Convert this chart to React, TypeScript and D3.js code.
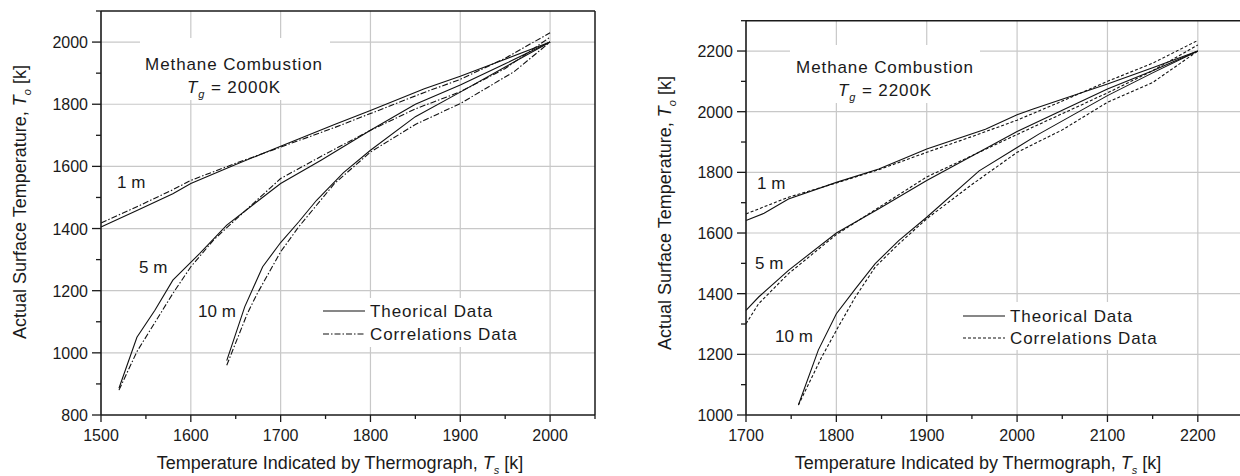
import React from "react";
import * as d3 from "d3";

const FONT = "'Liberation Sans', Arial, Helvetica, sans-serif";
const INK = "#1a1a1a";
const GRID = "#c8c8c8";

// ---------------- Left panel: Tg = 2000 K ----------------
const leftXTicks = [1500, 1600, 1700, 1800, 1900, 2000];
const leftYTicks = [800, 1000, 1200, 1400, 1600, 1800, 2000];

const L1mTheoX = [1500, 1540, 1580, 1600, 1650, 1700, 1760, 1800, 1860, 1900, 1950, 2000];
const L1mTheoY = [1405, 1458, 1512, 1545, 1606, 1665, 1735, 1780, 1850, 1890, 1945, 2000];
const L1mCorrX = [1500, 1540, 1580, 1600, 1650, 1700, 1760, 1800, 1860, 1900, 1950, 2000];
const L1mCorrY = [1418, 1470, 1525, 1555, 1610, 1662, 1725, 1770, 1838, 1880, 1948, 2030];

const L5mTheoX = [1520, 1540, 1560, 1580, 1610, 1640, 1700, 1745, 1800, 1850, 1900, 1950, 2000];
const L5mTheoY = [886, 1050, 1137, 1234, 1320, 1411, 1545, 1620, 1716, 1800, 1862, 1930, 2000];
const L5mCorrX = [1520, 1540, 1580, 1600, 1625, 1645, 1700, 1750, 1800, 1850, 1900, 1950, 2000];
const L5mCorrY = [880, 1004, 1191, 1277, 1362, 1416, 1561, 1640, 1716, 1785, 1840, 1915, 2016];

const L10mTheoX = [1640, 1660, 1680, 1700, 1720, 1740, 1770, 1800, 1850, 1900, 1950, 2000];
const L10mTheoY = [975, 1148, 1277, 1355, 1421, 1491, 1580, 1652, 1760, 1839, 1920, 2000];
const L10mCorrX = [1640, 1663, 1674, 1700, 1720, 1760, 1800, 1850, 1900, 1960, 2000];
const L10mCorrY = [960, 1127, 1191, 1325, 1405, 1545, 1646, 1735, 1802, 1905, 2000];

// ---------------- Right panel: Tg = 2200 K ----------------
const rightXTicks = [1700, 1800, 1900, 2000, 2100, 2200];
const rightYTicks = [1000, 1200, 1400, 1600, 1800, 2000, 2200];

const R1mTheoX = [1700, 1720, 1747, 1800, 1847, 1900, 1965, 2000, 2017, 2100, 2150, 2200];
const R1mTheoY = [1641, 1665, 1712, 1767, 1811, 1877, 1942, 1990, 2008, 2091, 2145, 2200];
const R1mCorrX = [1700, 1747, 1800, 1850, 1900, 1950, 2000, 2050, 2100, 2150, 2200];
const R1mCorrY = [1663, 1718, 1765, 1812, 1866, 1918, 1972, 2035, 2100, 2160, 2235];

const R5mTheoX = [1700, 1714, 1747, 1800, 1847, 1900, 2000, 2100, 2150, 2200];
const R5mTheoY = [1345, 1389, 1477, 1600, 1680, 1773, 1935, 2075, 2135, 2200];
const R5mCorrX = [1700, 1714, 1747, 1800, 1900, 2000, 2100, 2150, 2200];
const R5mCorrY = [1301, 1367, 1466, 1595, 1785, 1925, 2062, 2135, 2220];

const R10mTheoX = [1758, 1780, 1800, 1821, 1843, 1869, 1900, 1958, 2000, 2024, 2100, 2150, 2200];
const R10mTheoY = [1033, 1214, 1334, 1416, 1499, 1575, 1652, 1805, 1882, 1926, 2053, 2128, 2200];
const R10mCorrX = [1758, 1784, 1802, 1821, 1843, 1869, 1900, 1950, 2000, 2050, 2100, 2150, 2200];
const R10mCorrY = [1033, 1192, 1290, 1389, 1488, 1564, 1647, 1760, 1866, 1940, 2031, 2096, 2200];

const curveLabels = ["1 m", "5 m", "10 m"];
const legendLabels = ["Theorical Data", "Correlations Data"];

type Series = { x: number[]; y: number[]; corr: boolean };

const zip = (xs: number[], ys: number[]) => xs.map((v, i) => [v, ys[i]] as [number, number]);

interface PanelProps {
  xDomain: [number, number];
  yDomain: [number, number];
  left: number; right: number; top: number; bottom: number;
  xTicks: number[]; yTicks: number[];
  series: Series[];
  dash: string;
  tg: string;
  annot: { cx: number; y: number; box: [number, number, number, number] };
  labels: { x: number; y: number }[];
  legend: { x: number; y: number; gap: number; box: [number, number, number, number] };
  xTitle: { cx: number; y: number };
  yTitle: { x: number; cy: number };
}

function Panel(p: PanelProps) {
  const x = d3.scaleLinear().domain(p.xDomain).range([p.left, p.right]);
  const y = d3.scaleLinear().domain(p.yDomain).range([p.bottom, p.top]);
  const line = d3.line<[number, number]>().x((d) => x(d[0])).y((d) => y(d[1]));
  const xMinor = d3.range(p.xDomain[0] + 50, p.xDomain[1] + 1, 100);
  const yMinor = d3.range(p.yDomain[0] + 100, p.yDomain[1] + 1, 200);
  const sub = { fontSize: 11, fontStyle: "italic" as const };
  return (
    <g fontFamily={FONT} fill={INK}>
      {/* grid */}
      {p.xTicks.filter((v) => v > p.xDomain[0]).map((v) => (
        <line key={"gx" + v} x1={x(v)} x2={x(v)} y1={p.top} y2={p.bottom} stroke={GRID} strokeWidth={1.2} />
      ))}
      {p.yTicks.filter((v) => v > p.yDomain[0]).map((v) => (
        <line key={"gy" + v} x1={p.left} x2={p.right} y1={y(v)} y2={y(v)} stroke={GRID} strokeWidth={1.2} />
      ))}
      {/* white boxes behind annotation and legend */}
      <rect x={p.annot.box[0]} y={p.annot.box[1]} width={p.annot.box[2] - p.annot.box[0]} height={p.annot.box[3] - p.annot.box[1]} fill="#fff" />
      <rect x={p.legend.box[0]} y={p.legend.box[1]} width={p.legend.box[2] - p.legend.box[0]} height={p.legend.box[3] - p.legend.box[1]} fill="#fff" />
      {/* curves */}
      {p.series.map((s, i) => (
        <path key={"s" + i} d={line(zip(s.x, s.y)) || ""} fill="none" stroke="#111" strokeWidth={1.1}
          strokeDasharray={s.corr ? p.dash : undefined} />
      ))}
      {/* frame */}
      <line x1={p.left} x2={p.right} y1={p.top} y2={p.top} stroke={INK} strokeWidth={1.5} />
      <line x1={p.right} x2={p.right} y1={p.top} y2={p.bottom} stroke={INK} strokeWidth={1.5} />
      <line x1={p.left} x2={p.left} y1={p.top} y2={p.bottom} stroke={INK} strokeWidth={1.6} />
      <line x1={p.left} x2={p.right} y1={p.bottom} y2={p.bottom} stroke={INK} strokeWidth={1.6} />
      {/* ticks */}
      {p.xTicks.map((v) => (
        <line key={"tx" + v} x1={x(v)} x2={x(v)} y1={p.bottom} y2={p.bottom + 7} stroke={INK} strokeWidth={1.3} />
      ))}
      {xMinor.map((v) => (
        <line key={"mx" + v} x1={x(v)} x2={x(v)} y1={p.bottom} y2={p.bottom + 4} stroke={INK} strokeWidth={1.3} />
      ))}
      {p.yTicks.map((v) => (
        <line key={"ty" + v} x1={p.left - 9} x2={p.left} y1={y(v)} y2={y(v)} stroke={INK} strokeWidth={1.3} />
      ))}
      {yMinor.map((v) => (
        <line key={"my" + v} x1={p.left - 5} x2={p.left} y1={y(v)} y2={y(v)} stroke={INK} strokeWidth={1.3} />
      ))}
      {/* tick labels */}
      {p.xTicks.map((v) => (
        <text key={"lx" + v} x={x(v)} y={p.bottom + 26} fontSize={16} textAnchor="middle">{v}</text>
      ))}
      {p.yTicks.map((v) => (
        <text key={"ly" + v} x={p.left - 13} y={y(v) + 6} fontSize={16} textAnchor="end">{v}</text>
      ))}
      {/* axis titles */}
      <text x={p.xTitle.cx} y={p.xTitle.y} fontSize={18} textAnchor="middle">
        Temperature Indicated by Thermograph, <tspan fontStyle="italic">T</tspan>
        <tspan {...sub} dy={5}>s</tspan>
        <tspan dy={-5}> [k]</tspan>
      </text>
      <text transform={`translate(${p.yTitle.x},${p.yTitle.cy}) rotate(-90)`} fontSize={18} textAnchor="middle">
        Actual Surface Temperature, <tspan fontStyle="italic">T</tspan>
        <tspan {...sub} dy={5}>o</tspan>
        <tspan dy={-5}> [k]</tspan>
      </text>
      {/* annotation */}
      <text x={p.annot.cx} y={p.annot.y} fontSize={17} letterSpacing={0.9} textAnchor="middle">Methane Combustion</text>
      <text x={p.annot.cx} y={p.annot.y + 23} fontSize={17} letterSpacing={0.9} textAnchor="middle">
        <tspan fontStyle="italic">T</tspan>
        <tspan {...sub} dy={5}>g</tspan>
        <tspan dy={-5}>{" = " + p.tg}</tspan>
      </text>
      {/* curve labels */}
      {p.labels.map((l, i) => (
        <text key={"cl" + i} x={l.x} y={l.y} fontSize={17}>{curveLabels[i]}</text>
      ))}
      {/* legend */}
      {legendLabels.map((t, i) => (
        <g key={"lg" + i}>
          <line x1={p.legend.x} x2={p.legend.x + 42} y1={p.legend.y + i * p.legend.gap} y2={p.legend.y + i * p.legend.gap}
            stroke="#111" strokeWidth={1.2} strokeDasharray={i === 1 ? p.dash : undefined} />
          <text x={p.legend.x + 47} y={p.legend.y + i * p.legend.gap + 5.5} fontSize={17} letterSpacing={0.9}>{t}</text>
        </g>
      ))}
    </g>
  );
}

export default function App() {
  const leftSeries: Series[] = [
    { x: L1mTheoX, y: L1mTheoY, corr: false },
    { x: L1mCorrX, y: L1mCorrY, corr: true },
    { x: L5mTheoX, y: L5mTheoY, corr: false },
    { x: L5mCorrX, y: L5mCorrY, corr: true },
    { x: L10mTheoX, y: L10mTheoY, corr: false },
    { x: L10mCorrX, y: L10mCorrY, corr: true },
  ];
  const rightSeries: Series[] = [
    { x: R1mTheoX, y: R1mTheoY, corr: false },
    { x: R1mCorrX, y: R1mCorrY, corr: true },
    { x: R5mTheoX, y: R5mTheoY, corr: false },
    { x: R5mCorrX, y: R5mCorrY, corr: true },
    { x: R10mTheoX, y: R10mTheoY, corr: false },
    { x: R10mCorrX, y: R10mCorrY, corr: true },
  ];
  return (
    <svg width={1240} height={476} style={{ position: "absolute", left: 0, top: 0, background: "#fff" }}>
      <rect x={0} y={0} width={1240} height={476} fill="#fff" />
      <Panel
        xDomain={[1500, 2050]} yDomain={[800, 2100]}
        left={101} right={595} top={11} bottom={415}
        xTicks={leftXTicks} yTicks={leftYTicks}
        series={leftSeries} dash="6,2,1.5,2" tg="2000K"
        annot={{ cx: 234, y: 70, box: [140, 38, 330, 100] }}
        labels={[{ x: 117, y: 188 }, { x: 139, y: 273 }, { x: 198, y: 317 }]}
        legend={{ x: 323, y: 311, gap: 23, box: [319, 298, 522, 347] }}
        xTitle={{ cx: 340, y: 469 }}
        yTitle={{ x: 26, cy: 202 }}
      />
      <Panel
        xDomain={[1700, 2250]} yDomain={[1000, 2300]}
        left={746} right={1243} top={20.7} bottom={415}
        xTicks={rightXTicks} yTicks={rightYTicks}
        series={rightSeries} dash="3,2" tg="2200K"
        annot={{ cx: 885, y: 73, box: [790, 45, 980, 103] }}
        labels={[{ x: 757, y: 189 }, { x: 755, y: 269 }, { x: 775, y: 342 }]}
        legend={{ x: 963, y: 316, gap: 22, box: [959, 302, 1168, 350] }}
        xTitle={{ cx: 978, y: 469 }}
        yTitle={{ x: 671, cy: 213 }}
      />
    </svg>
  );
}
